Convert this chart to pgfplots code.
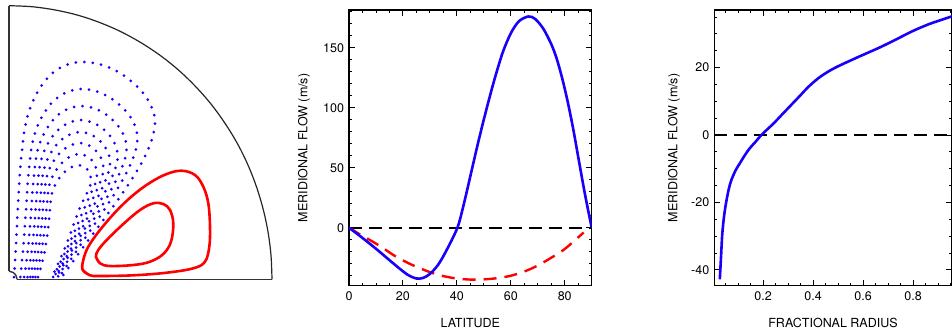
\documentclass[border=0pt]{standalone}
\usepackage{pgfplots}
\pgfplotsset{compat=1.18}
\usepackage{fontspec}
\setmainfont{TeX Gyre Heros}
\definecolor{idlblue}{RGB}{25,0,250}
\definecolor{idlred}{RGB}{255,0,0}
\newcommand{\idlfont}{\fontsize{12.5}{14}\selectfont}
\pgfplotsset{
  panel/.style={
    scale only axis, tick align=inside,
    major tick length=5.5pt, minor tick length=3pt,
    every tick/.style={black, line width=0.9pt},
    axis line style={line width=1.2pt},
    tick label style={font=\idlfont},
    label style={font=\idlfont},
    xticklabel style={yshift=-2pt},
    yticklabel style={xshift=-1.5pt},
  },
  bdot/.style={idlblue, line width=3pt, line cap=round, dash pattern=on 0pt off 8.5pt, smooth, tension=0.6},
}
\begin{document}
\begin{tikzpicture}
\path[use as bounding box] (0,0) rectangle (952pt,333pt);

% ---------------- left panel: meridional circulation ----------------
\begin{axis}[
  at={(140.5pt,190.5pt)}, anchor=center,
  scale only axis, width=263pt, height=273.6pt,
  xmin=9, xmax=272, ymin=5.7, ymax=279.3, y dir=reverse,
  hide axis, clip=false]
% boundary
\addplot[black!85, line width=1.2pt, smooth, tension=0.55] coordinates {
 (272,279.3) (271.0,255.4) (268.0,231.8) (263.0,208.5) (256.1,185.7) (247.4,163.7)
 (236.8,142.5) (224.4,122.4) (210.5,103.4) (194.9,85.8) (178.1,69.7) (159.9,55.2)
 (140.5,42.4) (120.1,31.3) (98.9,22.2) (77.1,15.0) (54.7,9.9) (31.9,6.7) (9,5.7)};
\addplot[black!80, line width=1.4pt] coordinates {(9,5.7) (9,271.3)};
\addplot[black!80, line width=1.4pt, smooth] coordinates {(9,271.3) (13,272.4) (15.9,275.3) (17,279.3)};
\addplot[black!80, line width=1.4pt] coordinates {(17,279.3) (272,279.3)};
% blue dotted contours
\addplot[bdot] coordinates {(14,277) (16,245) (18,205) (21,160) (27,118) (40,88) (58,69) (82,62) (108,67) (131,81) (148,100) (155,122) (148,150) (130,182) (107,215) (84,246) (62,277)};
\addplot[bdot] coordinates {(20.3,277) (23.3,247.6) (25.9,211.6) (28.6,173.1) (33.6,137.7) (44.7,112.1) (60.4,95.5) (81,89) (102.2,93.5) (120.3,105.4) (133.1,121.5) (137.4,140.1) (130.7,163.9) (115.9,191.4) (97.3,220.2) (78.2,248.4) (59.4,277)};
\addplot[bdot] coordinates {(24.2,277) (28,249.3) (30.8,215.7) (33.4,181.4) (37.7,150) (47.7,127.3) (61.8,112.1) (80.3,106) (98.6,110.1) (113.5,120.7) (123.7,135) (126.4,151.5) (119.8,172.6) (106.9,197.4) (91.2,223.5) (74.6,249.8) (57.7,277)};
\addplot[bdot] coordinates {(27.5,277) (31.8,250.6) (34.9,219.1) (37.3,188.2) (41.1,160.2) (50.1,139.8) (63.1,125.9) (79.7,120) (95.6,123.9) (107.9,133.4) (115.9,146.2) (117.3,160.8) (110.8,179.8) (99.6,202.3) (86.2,226.3) (71.6,251.1) (56.4,277)};
\addplot[bdot] coordinates {(30.3,277) (35,251.8) (38.4,222) (40.7,194) (44,169) (52.2,150.6) (64.1,137.7) (79.3,132) (93,135.7) (103.1,144.2) (109.2,155.8) (109.4,168.9) (103.1,186) (93.3,206.5) (81.8,228.6) (69,252.1) (55.2,277)};
\addplot[bdot] coordinates {(32.9,277) (38,252.9) (41.6,224.7) (43.8,199.3) (46.7,177) (54.1,160.3) (65.1,148.4) (78.9,143) (90.7,146.4) (98.8,154.1) (103.2,164.5) (102.3,176.2) (96.1,191.7) (87.6,210.3) (77.9,230.7) (66.7,253.1) (54.1,277)};
\addplot[bdot] coordinates {(35.4,277) (41,253.9) (44.8,227.3) (46.9,204.7) (49.3,185) (56.1,170.2) (66,159.2) (78.4,154) (88.4,157.2) (94.4,164) (97.1,173.2) (95.2,183.6) (89.1,197.3) (81.8,214.1) (74,232.9) (64.4,254) (53.1,277)};
\addplot[bdot] coordinates {(38,277) (44,255) (48,230) (50,210) (52,193) (58,180) (67,170) (78,165) (86,168) (90,174) (91,182) (88,191) (82,203) (76,218) (70,235) (62,255) (52,277)};
% red solid contours
\addplot[idlred, line width=2.6pt, smooth, tension=0.6] coordinates {
 (82.7,270) (90,275.3) (100,276) (133.3,275.3) (166.7,272.7) (193.3,268.3) (205,261.7)
 (209.3,246.7) (210,226.7) (208.3,203.3) (203.3,186.7) (195,175) (181.7,170.7)
 (166.7,174) (150,182.7) (133.3,195) (116.7,210.7) (100,230) (88.3,246.7) (83.3,260)
 (82.7,270) (90,275.3)};
\addplot[idlred, line width=2.6pt, smooth, tension=0.6] coordinates {
 (96,256.7) (100,263.3) (110,266) (133.3,265) (150,261.7) (163.3,254) (171,241.7)
 (173.3,223.3) (170,210) (163.3,204) (153.3,203.3) (140,210) (123.3,224) (106.7,240)
 (98.3,250) (96,256.7) (100,263.3)};
\end{axis}

% ---------------- middle panel: flow vs latitude ----------------
\begin{axis}[panel,
  at={(470.35pt,185.15pt)}, anchor=center,
  width=242.7pt, height=275.7pt,
  xmin=0, xmax=90, ymin=-48.3, ymax=181.4,
  xtick={0,20,40,60,80}, xticklabels={0,20,40,60,80},
  ytick={0,50,100,150}, yticklabels={0,50,100,150},
  minor xtick={5,10,...,85}, minor ytick={-40,-30,...,180},
  xlabel={LATITUDE}, ylabel={MERIDIONAL FLOW (m/s)},
  xlabel style={at={(axis description cs:0.5,0)}, anchor=center, yshift=-37.3pt},
  ylabel style={at={(axis description cs:-0.1854,0.5)}, anchor=center},
]
\addplot[black, line width=2.4pt, dash pattern=on 13pt off 7pt] coordinates {(0,0) (90,0)};
\addplot[idlred, line width=2.4pt, dash pattern=on 13pt off 8pt, smooth] coordinates {
 (0,0) (4,-5.5) (7.8,-10.3) (12,-16) (17,-23.5) (22,-29.5) (25,-32.5) (30,-37) (35,-40.3)
 (40,-42.3) (45,-43.2) (50,-43) (55,-42) (60,-40) (65,-36.5) (70,-31.5) (75,-25)
 (79.5,-18.6) (83,-12) (87,-4)};
\addplot[idlblue, line width=2.6pt, smooth] coordinates {
 (0,0) (5,-8.5) (10,-17.5) (15,-27) (19,-34.5) (22,-39.5) (25,-42.3) (27.5,-41.8)
 (30,-38.5) (33,-31) (36,-19.5) (40.2,0) (42.5,19) (45,43) (48,72) (51,99) (54,124)
 (57,146) (60,162) (63,172) (66.5,176) (69,174) (72,166) (75,153) (77,141) (79,125)
 (81,106) (83,84) (85,59) (87,34) (88.5,16.5) (90,0)};
\end{axis}

% ---------------- right panel: flow vs radius ----------------
\begin{axis}[panel,
  at={(833pt,185.15pt)}, anchor=center,
  width=237.4pt, height=275.7pt,
  xmin=0.005, xmax=0.9546, ymin=-44.7, ymax=37.1,
  xtick={0.2,0.4,0.6,0.8}, xticklabels={0.2,0.4,0.6,0.8},
  ytick={-40,-20,0,20}, yticklabels={-40,-20,0,20},
  minor xtick={0.05,0.1,0.15,0.25,0.3,0.35,0.45,0.5,0.55,0.65,0.7,0.75,0.85,0.9,0.95},
  minor ytick={-35,-30,-25,-15,-10,-5,5,10,15,25,30,35},
  xlabel={FRACTIONAL RADIUS}, ylabel={MERIDIONAL FLOW (m/s)},
  xlabel style={at={(axis description cs:0.5,0)}, anchor=center, yshift=-37.3pt},
  ylabel style={at={(axis description cs:-0.17,0.5)}, anchor=center},
]
\addplot[black, line width=2.4pt, dash pattern=on 13pt off 7pt] coordinates {(0.005,0) (0.9546,0)};
\addplot[idlblue, line width=2.6pt, smooth] coordinates {
 (0.027,-42.8) (0.032,-36) (0.037,-29.2) (0.045,-23.5) (0.054,-19.3) (0.063,-16)
 (0.073,-13.4) (0.09,-10.5) (0.107,-8.4) (0.127,-6) (0.147,-3.9) (0.17,-2) (0.193,0)
 (0.24,3.3) (0.28,6.4) (0.347,11.6) (0.38,14.2) (0.42,16.8) (0.46,18.8) (0.5,20.4)
 (0.573,22.9) (0.667,26.0) (0.733,28.4) (0.8,30.9) (0.867,33.0) (0.947,35.0) (0.96,35.3)};
\end{axis}
\end{tikzpicture}
\end{document}
